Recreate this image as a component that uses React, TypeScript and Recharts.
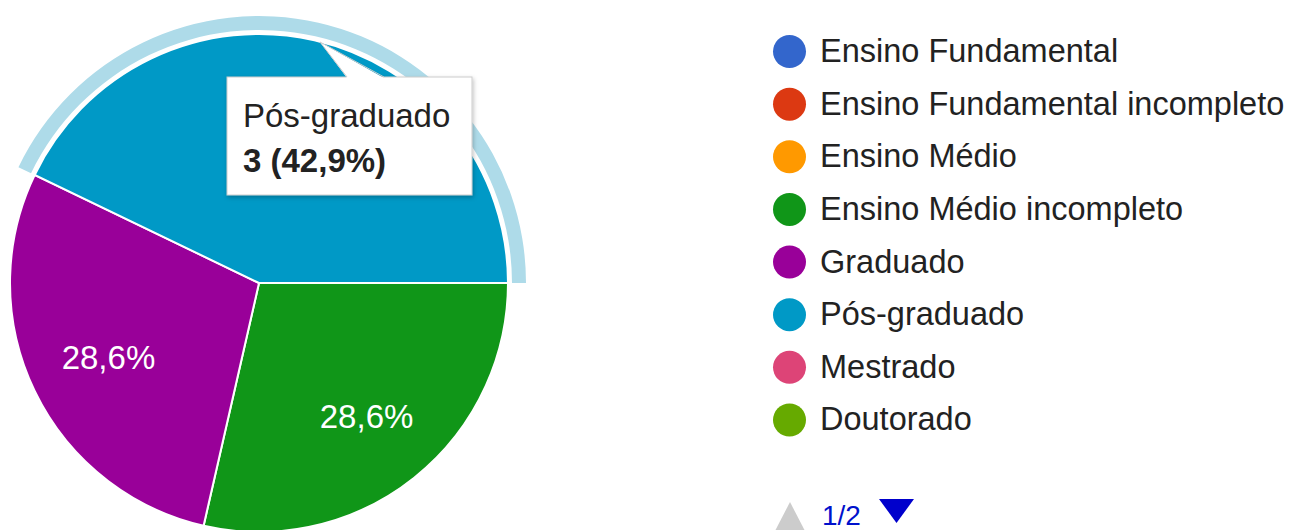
import React from "react";
import { Cell, Pie, PieChart } from "recharts";

const categories = [
  "Ensino Fundamental",
  "Ensino Fundamental incompleto",
  "Ensino Médio",
  "Ensino Médio incompleto",
  "Graduado",
  "Pós-graduado",
  "Mestrado",
  "Doutorado",
];
const counts = [0, 0, 0, 2, 2, 3, 0, 0];
const colors = ["#3366cc", "#dc3912", "#ff9900", "#109618", "#990099", "#0099c6", "#dd4477", "#66aa00"];
const highlighted = "Pós-graduado";
const pageLabel = "1/2";

const W = 1298;
const H = 530;
const CX = 259;
const CY = 283;
const R = 249;
const FONT = "Arial, 'Liberation Sans', sans-serif";

const total = counts.reduce((a, b) => a + b, 0);
const pct = (v: number) => ((v / total) * 100).toFixed(1).replace(".", ",") + "%";

const slices = categories
  .map((name, i) => ({ name, value: counts[i], color: colors[i] }))
  .filter((d) => d.value > 0);

const RAD = Math.PI / 180;

// the highlighted slice's label sits under the tooltip, so it is not drawn
function SliceLabel(props: any) {
  const { cx, cy, midAngle, outerRadius, percent, name } = props;
  if (name === highlighted) return null;
  const r = outerRadius * 0.68;
  const x = cx + r * Math.cos(-midAngle * RAD);
  const y = cy + r * Math.sin(-midAngle * RAD);
  return (
    <text x={x + 2} y={y + 1} fill="#ffffff" fontSize={33} fontFamily={FONT} textAnchor="middle" dominantBaseline="central">
      {(percent * 100).toFixed(1).replace(".", ",") + "%"}
    </text>
  );
}

function Overlay() {
  const hi = slices.find((d) => d.name === highlighted)!;
  const rowY = (i: number) => 51.5 + i * 52.64;
  return (
    <svg width={W} height={H} style={{ position: "absolute", left: 0, top: 0, pointerEvents: "none" }}>
      <defs>
        <filter id="tipShadow" x="-10%" y="-10%" width="130%" height="130%">
          <feDropShadow dx="1" dy="2" stdDeviation="2" floodColor="#000" floodOpacity="0.25" />
        </filter>
      </defs>
      {/* tooltip */}
      <rect x={227} y={77} width={245} height={118} fill="#fff" stroke="#cccccc" strokeWidth={1} filter="url(#tipShadow)" />
      <polygon points="320,42 347,78 384,78" fill="#fff" />
      <polyline points="347,77 320,42 384,77" fill="none" stroke="#cccccc" strokeWidth={1} />
      <text x={243} y={127} fontSize={33} fontFamily={FONT} fill="#222">
        {hi.name}
      </text>
      <text x={243} y={172} fontSize={33} fontFamily={FONT} fontWeight="bold" fill="#222">
        {`${hi.value} (${pct(hi.value)})`}
      </text>

      {/* legend */}
      {categories.map((name, i) => (
        <g key={name}>
          <circle cx={789.5} cy={rowY(i)} r={16.5} fill={colors[i]} />
          <text x={820} y={rowY(i) + 10.5} fontSize={32.5} fontFamily={FONT} fill="#222">
            {name}
          </text>
        </g>
      ))}
      <polygon points="775,531 805,531 790,502" fill="#cccccc" />
      <text x={822} y={525} fontSize={28} fontFamily={FONT} fill="#0011cc">
        {pageLabel}
      </text>
      <polygon points="879,499 914,499 896.5,523" fill="#0000cc" />
    </svg>
  );
}

export default function App() {
  return (
    <div style={{ position: "absolute", left: 0, top: 0, width: W, height: H, background: "#fff" }}>
      <PieChart width={W} height={H} margin={{ top: 0, right: 0, bottom: 0, left: 0 }}>
        <Pie
          data={slices}
          dataKey="value"
          nameKey="name"
          cx={CX}
          cy={CY}
          innerRadius={253}
          outerRadius={267}
          startAngle={0}
          endAngle={-360}
          stroke="none"
          isAnimationActive={false}
        >
          {slices.map((d) => (
            <Cell key={d.name} fill={d.name === highlighted ? "#aedbe9" : "none"} />
          ))}
        </Pie>
        <Pie
          data={slices}
          dataKey="value"
          nameKey="name"
          cx={CX}
          cy={CY}
          outerRadius={R}
          startAngle={0}
          endAngle={-360}
          stroke="#ffffff"
          strokeWidth={2}
          label={SliceLabel}
          labelLine={false}
          isAnimationActive={false}
        >
          {slices.map((d) => (
            <Cell key={d.name} fill={d.color} />
          ))}
        </Pie>
      </PieChart>
      <Overlay />
    </div>
  );
}
